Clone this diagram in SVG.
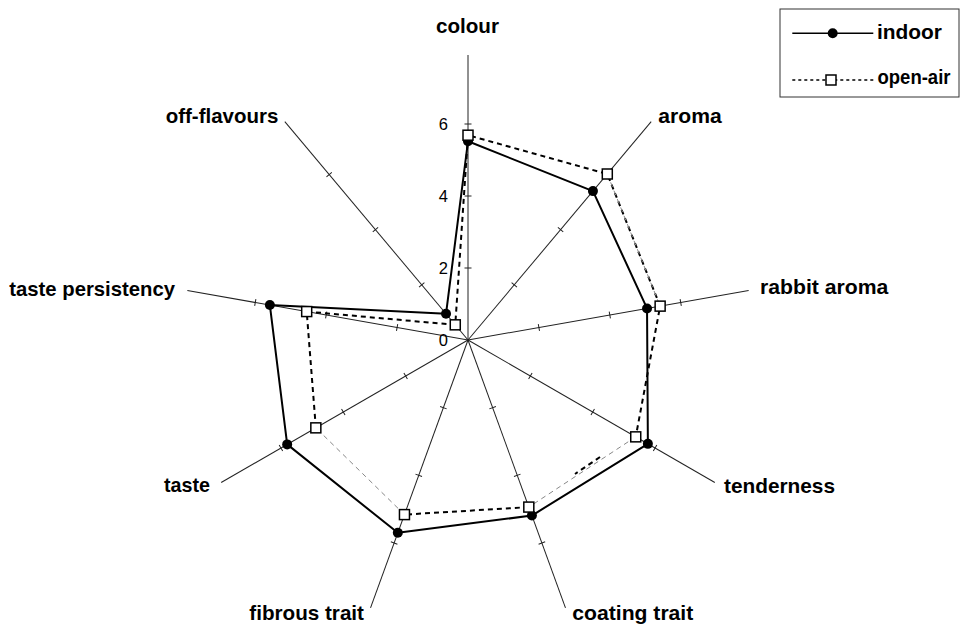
<svg xmlns="http://www.w3.org/2000/svg" xmlns:xlink="http://www.w3.org/1999/xlink" width="962" height="627" viewBox="0 0 962 627">
<style>
.lbl{font-family:"Liberation Sans",Arial,sans-serif;font-weight:bold;font-size:20.5px;fill:#000}
.num{font-family:"Liberation Sans",Arial,sans-serif;font-size:16.5px;fill:#000}
.leg{font-family:"Liberation Sans",Arial,sans-serif;font-weight:bold;font-size:19.5px;fill:#000}
.axis{stroke:#222;stroke-width:1;fill:none}
.indoor{stroke:#000;stroke-width:2;fill:none;stroke-linejoin:round}
.open{stroke:#000;stroke-width:2;fill:none;stroke-dasharray:5 4}
.openlight{stroke:#888;stroke-width:1;fill:none;stroke-dasharray:5 4}
.dot{fill:#000}
.sq{fill:#fff;stroke:#000;stroke-width:1.5}
</style>
<defs>
<g id="axis">
<line class="axis" x1="468" y1="340" x2="468" y2="55"/>
<path class="axis" d="M464.5 268h7M464.5 196h7M464.5 124h7"/>
</g>
<circle id="dot" class="dot" r="5"/>
<rect id="sq" class="sq" x="-5" y="-5" width="10" height="10"/>
</defs>
<rect width="962" height="627" fill="#fff"/>

<g id="axes">
<use xlink:href="#axis"/>
<use xlink:href="#axis" transform="rotate(40 468 340)"/>
<use xlink:href="#axis" transform="rotate(80 468 340)"/>
<use xlink:href="#axis" transform="rotate(120 468 340)"/>
<use xlink:href="#axis" transform="rotate(160 468 340)"/>
<use xlink:href="#axis" transform="rotate(200 468 340)"/>
<use xlink:href="#axis" transform="rotate(240 468 340)"/>
<use xlink:href="#axis" transform="rotate(280 468 340)"/>
<use xlink:href="#axis" transform="rotate(320 468 340)"/>
</g>

<g id="scale">
<text class="num" x="448" y="130" text-anchor="end">6</text>
<text class="num" x="448" y="202" text-anchor="end">4</text>
<text class="num" x="448" y="274" text-anchor="end">2</text>
<text class="num" x="448" y="346" text-anchor="end">0</text>
</g>

<g id="connectors">
<polygon id="indoor-line" class="indoor" points="468,141.3 592.96,191.09 647.04,308.44 647.87,443.85 531.89,515.54 397.82,532.83 287.18,444.4 269.86,305.07 446.02,313.8"/>
<polyline class="open" points="315.84,427.85 306.69,311.56 455.27,324.83 468,135.2 607.3,174 660.14,306.13 635.74,436.85"/>
<line class="openlight" x1="607.3" y1="174" x2="660.14" y2="306.13"/>
<line class="openlight" x1="635.74" y1="436.85" x2="528.81" y2="507.08"/>
<line class="open" x1="600" y1="457" x2="575" y2="474" stroke-dasharray="2 6"/>
<line class="open" x1="528.81" y1="507.08" x2="404.46" y2="514.6"/>
<line class="openlight" x1="404.46" y1="514.6" x2="315.84" y2="427.85"/>
</g>

<g id="indoor-markers">
<use xlink:href="#dot" x="468" y="141.3"/>
<use xlink:href="#dot" x="592.96" y="191.09"/>
<use xlink:href="#dot" x="647.04" y="308.44"/>
<use xlink:href="#dot" x="647.87" y="443.85"/>
<use xlink:href="#dot" x="531.89" y="515.54"/>
<use xlink:href="#dot" x="397.82" y="532.83"/>
<use xlink:href="#dot" x="287.18" y="444.4"/>
<use xlink:href="#dot" x="269.86" y="305.07"/>
<use xlink:href="#dot" x="446.02" y="313.8"/>
</g>

<g id="openair-markers">
<use xlink:href="#sq" x="468" y="135.2"/>
<use xlink:href="#sq" x="607.3" y="174"/>
<use xlink:href="#sq" x="660.14" y="306.13"/>
<use xlink:href="#sq" x="635.74" y="436.85"/>
<use xlink:href="#sq" x="528.81" y="507.08"/>
<use xlink:href="#sq" x="404.46" y="514.6"/>
<use xlink:href="#sq" x="315.84" y="427.85"/>
<use xlink:href="#sq" x="306.69" y="311.56"/>
<use xlink:href="#sq" x="455.27" y="324.83"/>
</g>

<g id="label-colour"><text class="lbl" x="436" y="33.3" textLength="63" lengthAdjust="spacingAndGlyphs">colour</text></g>
<g id="label-aroma"><text class="lbl" x="658.3" y="122.7" textLength="63.4" lengthAdjust="spacingAndGlyphs">aroma</text></g>
<g id="label-rabbit-aroma"><text class="lbl" x="760" y="294" textLength="128.3" lengthAdjust="spacingAndGlyphs">rabbit aroma</text></g>
<g id="label-tenderness"><text class="lbl" x="724" y="492.7" textLength="111" lengthAdjust="spacingAndGlyphs">tenderness</text></g>
<g id="label-coating-trait"><text class="lbl" x="572.3" y="620" textLength="121" lengthAdjust="spacingAndGlyphs">coating trait</text></g>
<g id="label-fibrous-trait"><text class="lbl" x="249.3" y="620" textLength="114.7" lengthAdjust="spacingAndGlyphs">fibrous trait</text></g>
<g id="label-taste"><text class="lbl" x="164" y="492.3" textLength="46" lengthAdjust="spacingAndGlyphs">taste</text></g>
<g id="label-taste-persistency"><text class="lbl" x="9.3" y="296" textLength="165.7" lengthAdjust="spacingAndGlyphs">taste persistency</text></g>
<g id="label-off-flavours"><text class="lbl" x="165.7" y="122.7" textLength="112.6" lengthAdjust="spacingAndGlyphs">off-flavours</text></g>

<g id="legend">
<rect x="780" y="9" width="179" height="88" fill="#fff" stroke="#333" stroke-width="1"/>
<line x1="792.3" y1="33.3" x2="873.3" y2="33.3" stroke="#000" stroke-width="1.5"/>
<use xlink:href="#dot" x="832.7" y="33.3"/>
<text class="leg" x="877" y="38.5" textLength="65" lengthAdjust="spacingAndGlyphs">indoor</text>
<line x1="792.3" y1="80" x2="873.3" y2="80" stroke="#000" stroke-width="1.5" stroke-dasharray="3 3"/>
<use xlink:href="#sq" x="831" y="80"/>
<text class="leg" x="877.5" y="84" textLength="73" lengthAdjust="spacingAndGlyphs">open-air</text>
</g>
</svg>
